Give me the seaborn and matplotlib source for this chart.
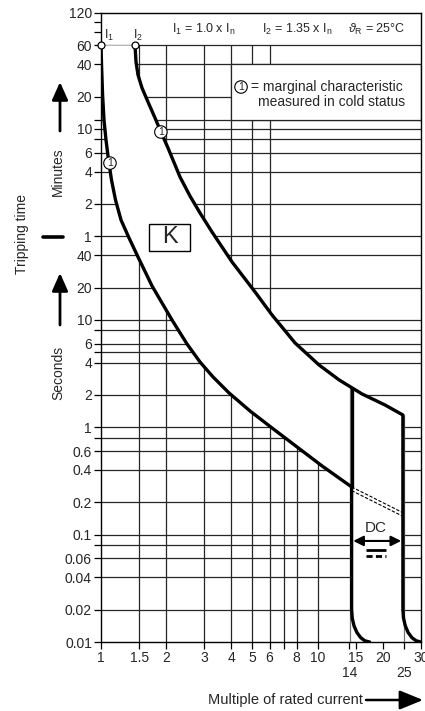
import numpy as np
import matplotlib
matplotlib.use("Agg")
import matplotlib.pyplot as plt
import seaborn as sns
import pandas as pd
from matplotlib.patches import Rectangle
from matplotlib.lines import Line2D

# tripping characteristic K, x = multiple of rated current, t = seconds
# lower limit curve (I1)
i1_x = [1.0, 1.0064, 1.0171, 1.0324, 1.0546, 1.083, 1.118, 1.1667, 1.237, 1.3469, 1.4821,
        1.7199, 2.1272, 2.4946, 2.8646, 3.2887, 3.899, 4.8735, 6.1584, 8.0352, 10.478, 14.35,
        14.35, 14.446, 14.725, 15.187, 15.797, 16.535, 17.381]
i1_t = [3600, 2263, 1241, 726, 473, 308, 200.7, 130.7, 85.1, 57.9, 38.5,
        20.7, 9.97, 5.96, 4.05, 2.94, 2.085, 1.417, 0.984, 0.655, 0.436, 0.278,
        0.02, 0.01666, 0.01412, 0.01224, 0.01098, 0.01025, 0.01]
# upper limit curve (I2)
i2_x = [1.4355, 1.4509, 1.4821, 1.5466, 1.6483, 1.7759, 1.8923, 2.0391, 2.316, 2.5762, 2.8646,
        3.2539, 4.0259, 5.1404, 6.1584, 7.8662, 10.15, 12.557, 16.032, 20.477, 24.75,
        24.75, 24.911, 25.393, 26.177, 27.237, 28.522, 29.98]
i2_t = [3600, 2519, 1906, 1442, 1068, 758, 561, 398, 214, 142, 98.9,
        65.8, 34.6, 18.2, 11.1, 6.09, 3.8, 2.76, 2.04, 1.61, 1.30,
        0.02, 0.01666, 0.01412, 0.01224, 0.01098, 0.01025, 0.01]
# magnetic release limit at 14 x In (part inside the band)
mag_x = [14.35, 14.35]
mag_t = [2.34, 0.278]
# DC continuation (dashed double line)
dc_x = [14.35, 24.75]
dc_t1 = [0.278, 0.16]
dc_t2 = [0.257, 0.148]
# circled "1" marks on the curves
mark_x = [1.10, 1.89]
mark_t = [288, 561]

# axis ticks
y_min_labels = ["120", "60", "40", "20", "10", "6", "4", "2", "1"]
y_min_pos = [7200, 3600, 2400, 1200, 600, 360, 240, 120, 60]
y_sec_labels = ["40", "20", "10", "6", "4", "2", "1", "0.6", "0.4", "0.2", "0.1", "0.06", "0.04", "0.02", "0.01"]
y_sec_pos = [40, 20, 10, 6, 4, 2, 1, 0.6, 0.4, 0.2, 0.1, 0.06, 0.04, 0.02, 0.01]
y_minor = [6000, 4800, 720, 480, 8, 5, 0.8, 0.08]
x_ticks = [1, 1.5, 2, 3, 4, 5, 6, 8, 10, 15, 20, 30]
x_labels = ["1", "1.5", "2", "3", "4", "5", "6", "8", "10", "15", "20", "30"]
x_low_ticks = [14, 25]
x_low_labels = ["14", "25"]
x_minor = [7, 14, 25]

# grid
grid_t = [3600, 2400, 1200, 720, 600, 480, 360, 240, 120, 60, 40, 20, 10, 8, 6, 5, 4, 2, 1,
          0.8, 0.6, 0.4, 0.2, 0.1, 0.08, 0.06, 0.04, 0.02]
grid_x_full = [1.5, 2, 3, 4, 5, 6]
grid_x_low = [7, 8, 10]

sns.set_theme(style="white")
plt.rcParams["font.family"] = ["Liberation Sans", "DejaVu Sans"]
plt.rcParams["mathtext.fontset"] = "custom"
plt.rcParams["mathtext.rm"] = "Liberation Sans"
plt.rcParams["mathtext.it"] = "Liberation Sans:italic"

W, H = 425, 711
fig = plt.figure(figsize=(W / 100, H / 100), dpi=100)
ax = fig.add_axes([101 / W, 69 / H, 320 / W, 629 / H])
ax.set_xscale("log")
ax.set_yscale("log")
ax.set_xlim(1, 30)
ax.set_ylim(0.01, 7200)

def fx(px):
    return px / W

def fy(py):
    return 1 - py / H

gc = "#262626"
ax.hlines(grid_t, 1, 30, colors=gc, lw=0.9, zorder=1)
ax.vlines(grid_x_full, 0.01, 3600, colors=gc, lw=0.9, zorder=1)
ax.vlines(grid_x_low, 0.01, 1.5, colors=gc, lw=0.9, zorder=1)

# legend box inside the grid
ax.add_patch(Rectangle((4, 720), 26, 1680, facecolor="white", edgecolor=gc, lw=0.9, zorder=2))

# white band between the two limit curves
band_x = i1_x + i2_x[::-1]
band_t = i1_t + i2_t[::-1]
ax.fill(band_x, band_t, color="white", lw=0, zorder=2)

ax.vlines([14.1], 0.01, 2.4, colors="#777777", lw=0.9, zorder=3)
ax.vlines([25.1], 0.01, 1.3, colors="#777777", lw=0.9, zorder=3)

df1 = pd.DataFrame({"x": i1_x, "t": i1_t})
df2 = pd.DataFrame({"x": i2_x, "t": i2_t})
sns.lineplot(data=df1, x="x", y="t", sort=False, estimator=None, color="black", lw=2.4, ax=ax, zorder=5)
sns.lineplot(data=df2, x="x", y="t", sort=False, estimator=None, color="black", lw=2.4, ax=ax, zorder=5)
ax.plot(mag_x, mag_t, color="black", lw=2.4, zorder=5)
ax.plot(dc_x, dc_t1, color="black", lw=0.8, ls=(0, (3, 1.5)), zorder=4)
ax.plot(dc_x, dc_t2, color="black", lw=0.8, ls=(0, (3, 1.5)), zorder=4)

# start points I1 / I2
ax.plot([i1_x[0], i2_x[0]], [i1_t[0], i2_t[0]], "o", ms=5, mfc="white", mec="black", mew=0.9,
        zorder=6, clip_on=False)
ax.text(1.03, 4490, "I$_1$", fontsize=9, ha="left", va="center")
ax.text(1.405, 4490, "I$_2$", fontsize=9, ha="left", va="center")

circ = dict(boxstyle="circle,pad=0.12", fc="white", ec="black", lw=0.8)
for mx, mt in zip(mark_x, mark_t):
    ax.text(mx, mt, "1", fontsize=7.5, ha="center", va="center", bbox=circ, zorder=7)

# header line
ax.text(2.127, 5109, "I$_1$ = 1.0 x I$_\\mathrm{n}$", fontsize=9, ha="left", va="center")
ax.text(5.54, 5109, "I$_2$ = 1.35 x I$_\\mathrm{n}$", fontsize=9, ha="left", va="center")
ax.text(25.3, 5109, "$\\vartheta_\\mathrm{R}$ = 25°C", fontsize=9, ha="right", va="center")

# legend text
ax.text(4.43, 1473, "1", fontsize=7.5, ha="center", va="center", bbox=circ, zorder=7)
ax.text(4.9, 1473, "= marginal characteristic", fontsize=10, ha="left", va="center", zorder=7)
ax.text(5.3, 1065, "measured in cold status", fontsize=10, ha="left", va="center", zorder=7)

# K box
ax.add_patch(Rectangle((1.665, 43.9), 0.911, 33.9, facecolor="white", edgecolor="black", lw=1, zorder=6))
ax.text(2.07, 58.5, "K", fontsize=17, ha="center", va="center", zorder=7)

# DC marker
ax.text(18.6, 0.1154, "DC", fontsize=11, ha="center", va="center", zorder=7)
ax.annotate("", xy=(24.3, 0.0873), xytext=(14.6, 0.0873),
            arrowprops=dict(arrowstyle="<|-|>,head_length=0.6,head_width=0.3", lw=1.5, color="black",
                            mutation_scale=10, shrinkA=0, shrinkB=0), zorder=7)
ax.plot([16.7, 20.6], [0.072, 0.072], color="black", lw=2, zorder=7, solid_capstyle="butt")
ax.plot([16.7, 20.6], [0.0633, 0.0633], color="black", lw=2, ls=(0, (2.2, 1.2)), zorder=7)

# axes styling
for s in ax.spines.values():
    s.set_color("black")
    s.set_linewidth(1)
    s.set_visible(True)
ax.set_yticks(y_min_pos + y_sec_pos, y_min_labels + y_sec_labels)
ax.set_yticks(y_minor, minor=True)
ax.set_xticks(x_ticks, x_labels)
ax.set_xticks(x_minor, minor=True)
ax.yaxis.set_minor_formatter(matplotlib.ticker.NullFormatter())
ax.xaxis.set_minor_formatter(matplotlib.ticker.NullFormatter())
ax.tick_params(axis="both", which="both", direction="out", length=5, width=0.9, color="black",
               labelsize=10, pad=1.5, left=True, bottom=True)
ax.set_xlabel("")
ax.set_ylabel("")
for xv, lab in zip(x_low_ticks, x_low_labels):
    ax.text(xv, -0.049, lab, transform=ax.get_xaxis_transform(), fontsize=10, ha="center", va="center")

# left side annotations
fig.text(fx(22), fy(234), "Tripping time", rotation=90, fontsize=10, ha="center", va="center")
fig.text(fx(58), fy(172), "Minutes", rotation=90, fontsize=10, ha="center", va="center")
fig.text(fx(58), fy(373), "Seconds", rotation=90, fontsize=10, ha="center", va="center")
arr = dict(arrowstyle="-|>,head_length=0.9,head_width=0.4", lw=2, color="black",
           mutation_scale=12, shrinkA=0, shrinkB=0)
ax.annotate("", xy=(fx(60), fy(82)), xytext=(fx(60), fy(131)), xycoords="figure fraction", arrowprops=arr)
ax.annotate("", xy=(fx(60), fy(273)), xytext=(fx(60), fy(325)), xycoords="figure fraction", arrowprops=arr)
fig.add_artist(Line2D([fx(43), fx(63)], [fy(237), fy(237)], lw=2.6, color="black", transform=fig.transFigure))

fig.text(fx(208), fy(700), "Multiple of rated current", fontsize=10.5, ha="left", va="center")
ax.annotate("", xy=(fx(423), fy(700)), xytext=(fx(366), fy(700)), xycoords="figure fraction",
            arrowprops=dict(arrowstyle="-|>,head_length=1.1,head_width=0.45", lw=1.8, color="black",
                            mutation_scale=13, shrinkA=0, shrinkB=0))

fig.savefig("out.png", dpi=100)
